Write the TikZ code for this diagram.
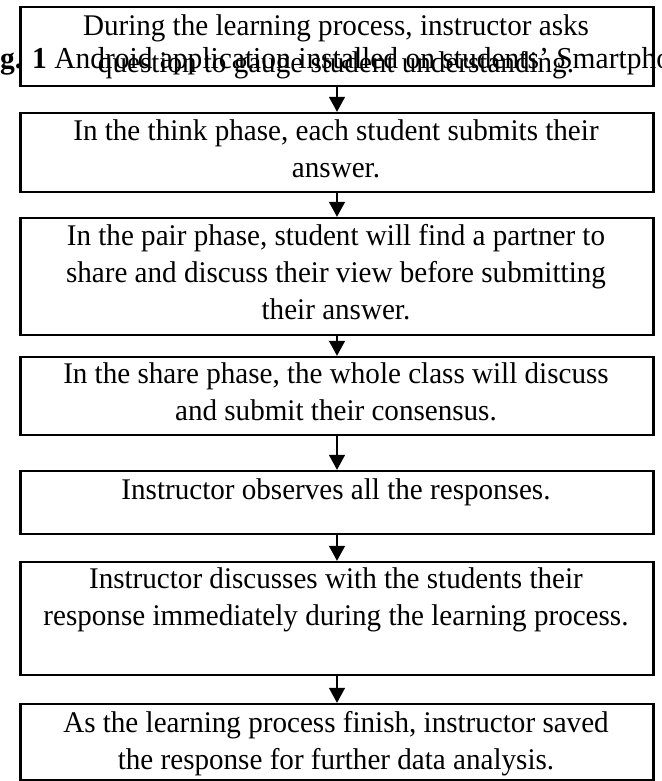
\documentclass[tikz,border=0pt]{standalone}
\usepackage{fontspec}
\setmainfont[FakeStretch=0.97]{Liberation Serif}
\usetikzlibrary{arrows.meta}
\tikzset{
  stepbox/.style={draw=black, line width=2.4pt, minimum width=633pt, inner sep=0pt, fill=none},
  steptext/.style={anchor=north, inner sep=0pt, align=center, font=\fontsize{30}{37}\selectfont},
  flowarrow/.style={line width=1.5pt, -{Triangle[width=16pt,length=15pt]}},
}
\begin{document}
\begin{tikzpicture}[x=1pt,y=-1pt]
\useasboundingbox (0,0) rectangle (661,781);
% boxes
\node[stepbox, minimum height=79pt]  (b1) at (337,46.5) {};
\node[stepbox, minimum height=79pt]  (b2) at (337,152.5) {};
\node[stepbox, minimum height=117pt] (b3) at (337,276.5) {};
\node[stepbox, minimum height=78pt]  (b4) at (337,396) {};
\node[stepbox, minimum height=63pt]  (b5) at (337,502.5) {};
\node[stepbox, minimum height=113pt] (b6) at (337,618.5) {};
\node[stepbox, minimum height=76pt]  (b7) at (337,742) {};
% texts (first baseline minus strut height 25.9)
\node[steptext] (t1) at (336,9.1) {\strut During the learning process, instructor asks\\question to gauge student understanding.};
\node[steptext] (t2) at (336,114.1) {\strut In the think phase, each student submits their\\answer.};
\node[steptext] (t3) at (336,219.1) {\strut In the pair phase, student will find a partner to\\share and discuss their view before submitting\\their answer.};
\node[steptext] (t4) at (336,357.1) {\strut In the share phase, the whole class will discuss\\and submit their consensus.};
\node[steptext] (t5) at (336,473.1) {\strut Instructor observes all the responses.};
\node[steptext] (t6) at (336,562.1) {\strut Instructor discusses with the students their\\response immediately during the learning process.};
\node[steptext] (t7) at (336,706.1) {\strut As the learning process finish, instructor saved\\the response for further data analysis.};
% overlapping caption text, clipped at the picture edges
\begin{scope}
\clip (0,0) rectangle (661,781);
\node[anchor=base west, inner sep=0pt, font=\fontsize{30.4}{37}\selectfont] (cap) at (0,69) {\textbf{g. 1} Android application installed on students’ Smartpho};
\end{scope}
% arrows
\draw[flowarrow] (b1.south) -- (b2.north);
\draw[flowarrow] (b2.south) -- (b3.north);
\draw[flowarrow] (b3.south) -- (b4.north);
\draw[flowarrow] (b4.south) -- (b5.north);
\draw[flowarrow] (b5.south) -- (b6.north);
\draw[flowarrow] (b6.south) -- (b7.north);
\end{tikzpicture}
\end{document}
